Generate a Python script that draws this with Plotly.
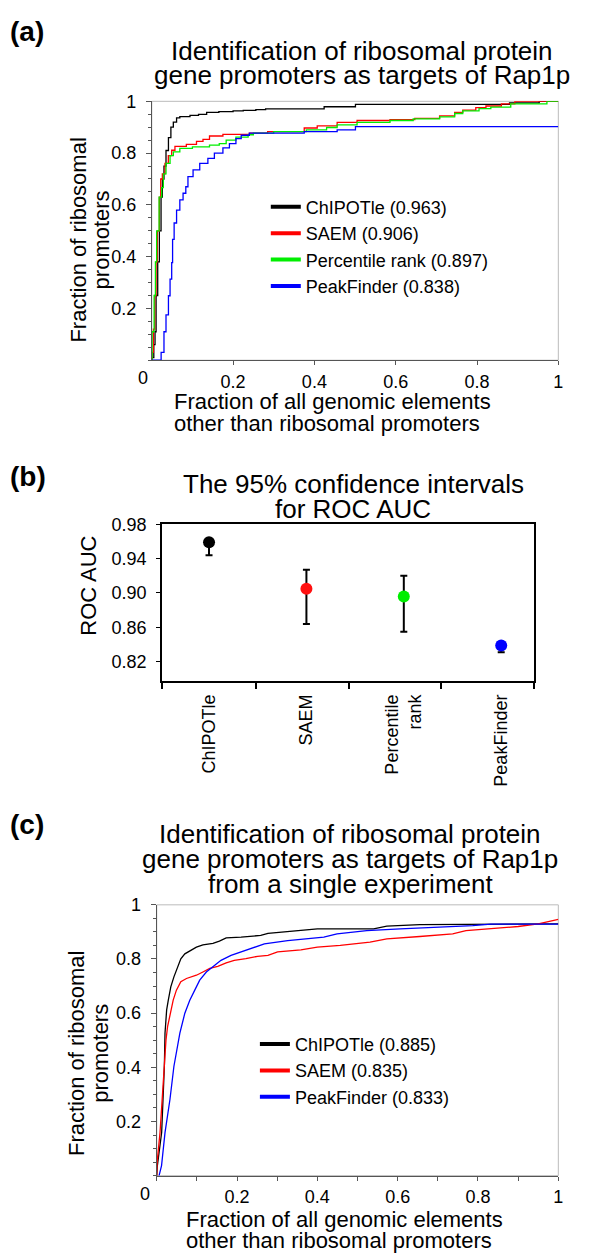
import plotly.graph_objects as go

# page body has an 8px default margin: figure is sized to fit the 600x1255 window exactly
OFF = 8
W, H = 600 - OFF, 1255 - OFF
FONT = "Liberation Sans, Arial, Helvetica, sans-serif"

def px(x):
    return (x - OFF) / W

def py(y):
    return 1 - (y - OFF) / H

# ---------------- data: panel (a) ROC curves (stepwise) ----------------
a_names = ["ChIPOTle", "SAEM", "Percentile rank", "PeakFinder"]
a_auc = [0.963, 0.906, 0.897, 0.838]
a_colors = ["#000000", "#ff0000", "#00ee00", "#0000ff"]

a_chip_x = [0, 0.001, 0.005, 0.008, 0.0106, 0.0146, 0.0187, 0.0228, 0.026, 0.030, 0.035, 0.041, 0.047,
            0.053, 0.061, 0.069, 0.094, 0.115, 0.135, 0.165, 0.2, 0.225, 0.256, 0.28, 0.424, 0.501,
            0.88, 0.953, 1.0]
a_chip_y = [0, 0.01, 0.06, 0.11, 0.25, 0.38, 0.50, 0.63, 0.70, 0.75, 0.81, 0.86, 0.90,
            0.92, 0.936, 0.941, 0.946, 0.95, 0.957, 0.96, 0.963, 0.965, 0.968, 0.971, 0.979, 0.988,
            0.994, 1.0, 1.0]

a_saem_x = [0, 0.001, 0.004, 0.0073, 0.0106, 0.0138, 0.0187, 0.022, 0.026, 0.0325, 0.0407, 0.049, 0.057,
            0.085, 0.11, 0.126, 0.142, 0.175, 0.24, 0.285, 0.375, 0.407, 0.456, 0.505, 0.586, 0.647,
            0.708, 0.745, 0.765, 0.797, 0.822, 0.86, 0.893, 1.0]
a_saem_y = [0, 0.03, 0.12, 0.25, 0.38, 0.50, 0.63, 0.70, 0.72, 0.76, 0.79, 0.811, 0.826,
            0.834, 0.845, 0.853, 0.866, 0.872, 0.877, 0.883, 0.897, 0.905, 0.919, 0.926, 0.929, 0.934,
            0.944, 0.957, 0.966, 0.976, 0.982, 0.99, 1.0, 1.0]

a_perc_x = [0, 0.0008, 0.0057, 0.009, 0.012, 0.018, 0.0244, 0.0285, 0.035, 0.045, 0.053, 0.069, 0.10,
            0.142, 0.166, 0.183, 0.207, 0.237, 0.25, 0.30, 0.38, 0.43, 0.456, 0.505, 0.586, 0.643,
            0.708, 0.745, 0.765, 0.805, 0.834, 0.883, 0.972, 1.0]
a_perc_y = [0, 0.11, 0.25, 0.38, 0.50, 0.63, 0.667, 0.72, 0.76, 0.79, 0.805, 0.818, 0.824,
            0.831, 0.837, 0.85, 0.862, 0.871, 0.877, 0.883, 0.89, 0.899, 0.909, 0.919, 0.926, 0.932,
            0.94, 0.953, 0.963, 0.972, 0.978, 0.99, 1.0, 1.0]

a_peak_x = [0, 0.0203, 0.023, 0.030, 0.035, 0.041, 0.045, 0.049, 0.0512, 0.055, 0.061, 0.069, 0.077,
            0.0837, 0.089, 0.1016, 0.118, 0.138, 0.154, 0.175, 0.191, 0.207, 0.22, 0.24, 0.375,
            0.456, 0.501, 1.0]
a_peak_y = [0, 0.0, 0.03, 0.11, 0.175, 0.249, 0.313, 0.377, 0.467, 0.53, 0.58, 0.619, 0.645,
            0.67, 0.709, 0.735, 0.76, 0.78, 0.80, 0.82, 0.837, 0.856, 0.869, 0.877, 0.883,
            0.89, 0.902, 0.902]

# ---------------- data: panel (b) AUC with 95% CI ----------------
b_methods = ["ChIPOTle", "SAEM", "Percentile<br>rank", "PeakFinder"]
b_pos = [1, 2, 3, 4]
b_auc = [0.959, 0.905, 0.896, 0.839]
b_lo = [0.944, 0.864, 0.855, 0.831]
b_hi = [0.961, 0.927, 0.920, 0.843]
b_colors = ["#000000", "#ff1010", "#00ee00", "#0000ff"]

# ---------------- data: panel (c) ROC curves, single experiment ----------------
c_names = ["ChIPOTle", "SAEM", "PeakFinder"]
c_auc = [0.885, 0.835, 0.833]
c_colors = ["#000000", "#ff0000", "#0000ff"]

c_chip_x = [0, 0.0012, 0.0123, 0.0165, 0.019, 0.0206, 0.0247, 0.0288, 0.035, 0.0428, 0.051, 0.060, 0.070,
            0.0823, 0.0988, 0.115, 0.14, 0.156, 0.173, 0.21, 0.259, 0.277, 0.359, 0.40, 0.54, 0.573,
            0.655, 0.832, 1.0]
c_chip_y = [0, 0.032, 0.16, 0.282, 0.404, 0.526, 0.612, 0.648, 0.697, 0.734, 0.77, 0.801, 0.819,
            0.831, 0.844, 0.852, 0.858, 0.866, 0.878, 0.881, 0.887, 0.895, 0.905, 0.911, 0.911, 0.921,
            0.927, 0.929, 0.93]

c_saem_x = [0, 0.001, 0.0082, 0.014, 0.018, 0.023, 0.027, 0.035, 0.041, 0.049, 0.060, 0.074, 0.0988,
            0.115, 0.132, 0.152, 0.173, 0.193, 0.222, 0.251, 0.277, 0.301, 0.359, 0.40, 0.457, 0.531,
            0.573, 0.655, 0.737, 0.77, 0.832, 0.90, 0.95, 1.0]
c_saem_y = [0, 0.05, 0.159, 0.282, 0.404, 0.50, 0.55, 0.612, 0.648, 0.685, 0.716, 0.728, 0.74,
            0.752, 0.765, 0.773, 0.786, 0.795, 0.801, 0.81, 0.813, 0.826, 0.834, 0.844, 0.85, 0.862,
            0.874, 0.883, 0.893, 0.905, 0.911, 0.92, 0.93, 0.946]

c_peak_x = [0.0058, 0.012, 0.0206, 0.033, 0.0428, 0.0576, 0.070, 0.0823, 0.0947, 0.107, 0.1235, 0.144,
            0.16, 0.185, 0.218, 0.235, 0.268, 0.326, 0.416, 0.449, 0.523, 0.606, 0.72, 0.787, 0.832, 1.0]
c_peak_y = [0.0, 0.037, 0.159, 0.282, 0.404, 0.526, 0.60, 0.648, 0.685, 0.722, 0.752, 0.777,
            0.795, 0.813, 0.831, 0.838, 0.856, 0.868, 0.881, 0.893, 0.905, 0.911, 0.917, 0.923, 0.929, 0.929]

tick_vals_01 = [0.2, 0.4, 0.6, 0.8, 1.0]
tick_text_01 = ["0.2", "0.4", "0.6", "0.8", "1"]
b_yticks = [0.82, 0.86, 0.90, 0.94, 0.98]

fig = go.Figure()

# panel (a) curves
a_series = [(a_chip_x, a_chip_y), (a_saem_x, a_saem_y), (a_perc_x, a_perc_y), (a_peak_x, a_peak_y)]
for (xs, ys), col in zip(a_series, a_colors):
    fig.add_trace(go.Scatter(x=xs, y=ys, mode="lines", line=dict(color=col, width=1.3, shape="hv"),
                             xaxis="x", yaxis="y", showlegend=False, hoverinfo="skip"))
for name, auc, col in zip(a_names, a_auc, a_colors):
    fig.add_trace(go.Scatter(x=[None], y=[None], mode="lines", line=dict(color=col, width=4),
                             name=f"{name} ({auc:.3f})", xaxis="x", yaxis="y", legend="legend"))

# panel (b)
fig.add_trace(go.Scatter(
    x=b_pos, y=b_auc, mode="markers", xaxis="x2", yaxis="y2", showlegend=False,
    marker=dict(color=b_colors, size=12, line=dict(width=0)),
    error_y=dict(type="data", symmetric=False,
                 array=[h - a for h, a in zip(b_hi, b_auc)],
                 arrayminus=[a - l for a, l in zip(b_auc, b_lo)],
                 color="#000000", thickness=2, width=3.5),
))

# panel (c) curves
c_series = [(c_chip_x, c_chip_y), (c_saem_x, c_saem_y), (c_peak_x, c_peak_y)]
for (xs, ys), col in zip(c_series, c_colors):
    fig.add_trace(go.Scatter(x=xs, y=ys, mode="lines", line=dict(color=col, width=1.3),
                             xaxis="x3", yaxis="y3", showlegend=False, hoverinfo="skip"))
for name, auc, col in zip(c_names, c_auc, c_colors):
    fig.add_trace(go.Scatter(x=[None], y=[None], mode="lines", line=dict(color=col, width=4),
                             name=f"{name} ({auc:.3f})", xaxis="x3", yaxis="y3", legend="legend2"))

AX = "#555555"
tickfont = dict(family=FONT, size=18, color="#000")

def roc_x(domain, anchor, minor_dtick=None):
    d = dict(domain=domain, anchor=anchor, range=[0, 1], tickvals=tick_vals_01, ticktext=tick_text_01,
             showline=True, linecolor=AX, linewidth=1, ticks="outside", ticklen=4, tickcolor=AX,
             showgrid=False, zeroline=False, tickfont=tickfont, ticklabelstandoff=1)
    if minor_dtick:
        d["minor"] = dict(dtick=minor_dtick, tick0=0, ticks="outside", ticklen=4, tickcolor=AX, showgrid=False)
    return d

def roc_y(domain, anchor):
    return dict(domain=domain, anchor=anchor, range=[0, 1], tickvals=tick_vals_01, ticktext=tick_text_01,
                showline=True, linecolor=AX, linewidth=1, ticks="outside", ticklen=5, tickcolor=AX,
                minor=dict(dtick=0.05, tick0=0, ticks="outside", ticklen=3, tickcolor=AX, showgrid=False),
                showgrid=False, zeroline=False, tickfont=tickfont, ticklabelstandoff=6)

fig.update_layout(
    width=W, height=H, margin=dict(l=0, r=0, t=0, b=0),
    paper_bgcolor="white", plot_bgcolor="white",
    font=dict(family=FONT, color="#000"),
    xaxis=roc_x([px(153), px(563)], "y"),
    yaxis=roc_y([py(353), py(92)], "x"),
    xaxis2=dict(domain=[px(163.3), px(538.8)], anchor="y2", range=[0.517, 4.34],
                tickvals=b_pos, ticktext=b_methods, tickangle=-90, ticks="",
                minor=dict(tickmode="array", tickvals=[0.518, 1.484, 2.435, 3.385, 4.339],
                           ticks="outside", ticklen=7, tickcolor="#000", tickwidth=1.5, showgrid=False),
                showline=True, linecolor="#000", linewidth=1.5, mirror=True,
                showgrid=False, zeroline=False, tickfont=tickfont, ticklabelstandoff=5),
    yaxis2=dict(domain=[py(676), py(518.3)], anchor="x2", range=[0.798, 0.98],
                tickvals=b_yticks, tickformat=".2f", ticks="outside", ticklen=4, tickcolor="#000",
                showline=True, linecolor="#000", linewidth=1.5, mirror=True,
                showgrid=False, zeroline=False, tickfont=tickfont, ticklabelstandoff=6),
    xaxis3=roc_x([px(158), px(563)], "y3", minor_dtick=0.1),
    yaxis3=roc_y([py(1175), py(902)], "x3"),
    legend=dict(x=px(268), y=py(180), xanchor="left", yanchor="top", bgcolor="rgba(0,0,0,0)",
                font=dict(family=FONT, size=18, color="#000"), itemwidth=30, borderwidth=0),
    legend2=dict(x=px(257), y=py(1024), xanchor="left", yanchor="top", bgcolor="rgba(0,0,0,0)",
                 font=dict(family=FONT, size=18, color="#000"), itemwidth=30, borderwidth=0),
)

# light frame on top/right of ROC panels
for xr, yr in (("x domain", "y domain"), ("x3 domain", "y3 domain")):
    fig.add_shape(type="rect", xref=xr, yref=yr, x0=0, x1=1, y0=0, y1=1,
                  line=dict(color="#bbbbbb", width=1), layer="below")

def ann(text, x, y, size, xanchor="center", yanchor="middle", angle=0, bold=False, align="center"):
    if bold:
        text = f"<b>{text}</b>"
    fig.add_annotation(text=text, x=px(x), y=py(y), xref="paper", yref="paper", showarrow=False,
                       xanchor=xanchor, yanchor=yanchor, textangle=angle, align=align,
                       font=dict(family=FONT, size=size, color="#000"))

# panel labels (leftmost usable pixel is the page margin)
ann("(a)", OFF, 22, 28, xanchor="left", bold=True)
ann("(b)", OFF, 470, 28, xanchor="left", bold=True)
ann("(c)", OFF, 821, 28, xanchor="left", bold=True)

# titles (one annotation per line for tight spacing)
ann("Identification of ribosomal protein", 365, 41, 26)
ann("gene promoters as targets of Rap1p", 365, 65, 26)
ann("The 95% confidence intervals", 356, 478, 26)
ann("for ROC AUC", 356, 503, 26)
ann("Identification of ribosomal protein", 353, 831, 26)
ann("gene promoters as targets of Rap1p", 353, 856, 26)
ann("from a single experiment", 353, 881, 26)

# axis titles
ann("Fraction of all genomic elements", 173, 395, 22, xanchor="left")
ann("other than ribosomal promoters", 173, 417, 22, xanchor="left")
ann("Fraction of ribosomal", 79, 232, 22, angle=-90)
ann("promoters", 102, 232, 22, angle=-90)
ann("ROC AUC", 89, 580, 22, angle=-90)
ann("Fraction of all genomic elements", 186, 1219, 22, xanchor="left")
ann("other than ribosomal promoters", 186, 1240, 22, xanchor="left")
ann("Fraction of ribosomal", 77, 1052, 22, angle=-90)
ann("promoters", 101, 1052, 22, angle=-90)

# shared corner "0" labels
ann("0", 144, 371, 18)
ann("0", 146.5, 1194, 18)

fig.write_html("out.html")
